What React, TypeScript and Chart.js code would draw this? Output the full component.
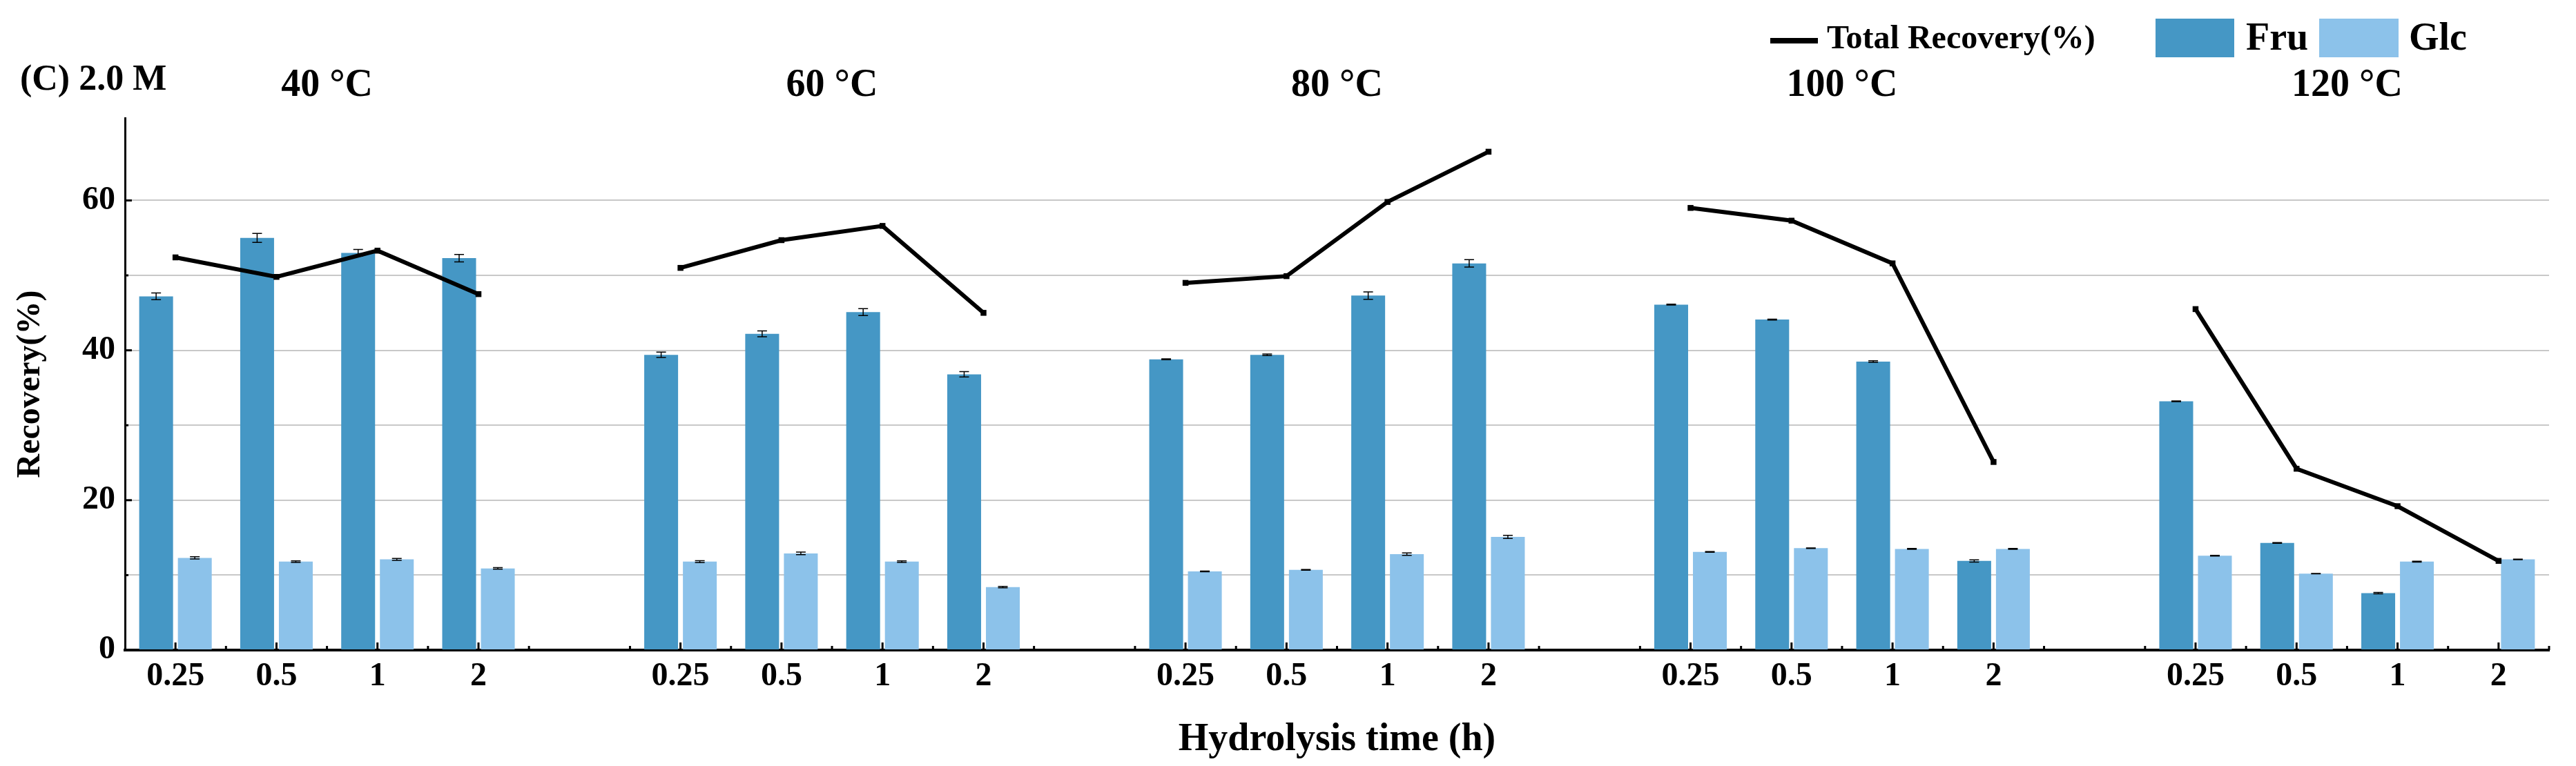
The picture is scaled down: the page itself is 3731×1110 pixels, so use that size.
import { useEffect, useRef } from 'react';
import { Chart, registerables } from 'chart.js';

Chart.register(...registerables);

// Blocks of hydrolysis temperature, each with four hydrolysis times
const temperatures = ['40 °C', '60 °C', '80 °C', '100 °C', '120 °C'];
const times = ['0.25', '0.5', '1', '2'];

// Fructose recovery (%) and its error, 4 values per temperature
const fru = [47.2, 55.0, 53.0, 52.3, 39.4, 42.2, 45.1, 36.8, 38.8, 39.4, 47.3, 51.6, 46.1, 44.1, 38.5, 11.9, 33.2, 14.3, 7.6, null];
const fruErr = [0.45, 0.6, 0.45, 0.5, 0.35, 0.4, 0.45, 0.35, 0.05, 0.1, 0.5, 0.5, 0.05, 0.05, 0.1, 0.15, 0.05, 0.05, 0.1, null];

// Glucose recovery (%) and its error
const glc = [12.3, 11.8, 12.1, 10.9, 11.8, 12.9, 11.8, 8.4, 10.5, 10.7, 12.8, 15.1, 13.1, 13.6, 13.5, 13.5, 12.6, 10.2, 11.8, 12.1];
const glcErr = [0.15, 0.1, 0.12, 0.1, 0.12, 0.18, 0.1, 0.1, 0.05, 0.05, 0.15, 0.2, 0.05, 0.03, 0.05, 0.05, 0.05, 0.03, 0.05, 0.03];

// Total recovery (%)
const totalRecovery = [52.4, 49.8, 53.3, 47.5, 51.0, 54.7, 56.6, 45.0, 49.0, 49.9, 59.8, 66.5, 59.0, 57.3, 51.6, 25.1, 45.5, 24.2, 19.2, 11.9];

const FRU_COLOR = '#4597c5';
const GLC_COLOR = '#8cc2ea';
const FONT = "'Liberation Serif', 'Times New Roman', serif";

// one empty category between temperature blocks
function withGaps<T>(values: T[]): (T | null)[] {
  const out: (T | null)[] = [];
  temperatures.forEach((_, b) => {
    if (b > 0) out.push(null);
    for (let k = 0; k < times.length; k++) out.push(values[b * times.length + k]);
  });
  return out;
}

const labels = withGaps(temperatures.flatMap(() => times)).map((t) => t ?? '');
const errorSets = [withGaps(fruErr), withGaps(glcErr)];

const decorations = {
  id: 'decorations',
  afterDatasetDraw(chart: any, args: any) {
    const meta = args.meta;
    if (meta.type !== 'bar') return;
    const errs = errorSets[args.index];
    const values = chart.data.datasets[args.index].data;
    const ys = chart.scales.y;
    const ctx = chart.ctx;
    ctx.save();
    ctx.strokeStyle = '#000';
    ctx.lineWidth = 1.5;
    meta.data.forEach((bar: any, i: number) => {
      const v = values[i];
      const e = errs[i];
      if (v == null || e == null) return;
      const top = ys.getPixelForValue(v + e);
      const bot = ys.getPixelForValue(v - e);
      ctx.beginPath();
      ctx.moveTo(bar.x, top);
      ctx.lineTo(bar.x, bot);
      ctx.moveTo(bar.x - 7, top);
      ctx.lineTo(bar.x + 7, top);
      ctx.moveTo(bar.x - 7, bot);
      ctx.lineTo(bar.x + 7, bot);
      ctx.stroke();
    });
    ctx.restore();
  },
  afterDraw(chart: any) {
    const { ctx, chartArea } = chart;
    const xs = chart.scales.x;
    const ys = chart.scales.y;
    ctx.save();
    ctx.strokeStyle = '#000';
    ctx.lineWidth = 3;
    // inward ticks on the x axis
    labels.forEach((lab, i) => {
      ctx.beginPath();
      if (lab) {
        const x = xs.getPixelForValue(i);
        ctx.moveTo(x, chartArea.bottom);
        ctx.lineTo(x, chartArea.bottom - 11);
      }
      const xm = xs.getPixelForValue(i + 0.5);
      ctx.moveTo(xm, chartArea.bottom);
      ctx.lineTo(xm, chartArea.bottom - 6);
      ctx.stroke();
    });
    // inward ticks on the y axis
    ys.ticks.forEach((t: any) => {
      const y = ys.getPixelForValue(t.value);
      const len = t.value % 20 === 0 ? 10 : 5;
      ctx.beginPath();
      ctx.moveTo(chartArea.left, y);
      ctx.lineTo(chartArea.left + len, y);
      ctx.stroke();
    });

    ctx.fillStyle = '#000';
    ctx.textBaseline = 'alphabetic';
    // temperature headings over each block
    ctx.font = `bold 56px ${FONT}`;
    ctx.textAlign = 'center';
    temperatures.forEach((t, b) => {
      const first = b * (times.length + 1);
      const x = (xs.getPixelForValue(first) + xs.getPixelForValue(first + times.length - 1)) / 2;
      ctx.fillText(t, x, 139);
    });

    // panel tag
    ctx.textAlign = 'left';
    ctx.font = `bold 52px ${FONT}`;
    ctx.fillText('(C) 2.0 M', 29, 130);

    // legend
    const ds = chart.data.datasets;
    ctx.lineWidth = 8;
    ctx.beginPath();
    ctx.moveTo(2564, 59);
    ctx.lineTo(2633, 59);
    ctx.stroke();
    ctx.font = `bold 48px ${FONT}`;
    ctx.fillText(ds[2].label, 2646, 70);
    ctx.font = `bold 56px ${FONT}`;
    ctx.fillStyle = ds[0].backgroundColor;
    ctx.fillRect(3122, 27, 114, 56);
    ctx.fillStyle = ds[1].backgroundColor;
    ctx.fillRect(3359, 27, 115, 56);
    ctx.fillStyle = '#000';
    ctx.fillText(ds[0].label, 3253, 72);
    ctx.fillText(ds[1].label, 3489, 72);
    ctx.restore();
  },
};

export default function App() {
  const canvasRef = useRef<HTMLCanvasElement | null>(null);
  const chartRef = useRef<Chart | null>(null);

  useEffect(() => {
    if (!canvasRef.current) return;
    if (chartRef.current) chartRef.current.destroy();

    const tickFont = { family: FONT, size: 48, weight: 'bold' as const };

    chartRef.current = new Chart(canvasRef.current, {
      type: 'bar',
      data: {
        labels,
        datasets: [
          {
            type: 'bar',
            label: 'Fru',
            data: withGaps(fru),
            backgroundColor: FRU_COLOR,
            barPercentage: 0.875,
            categoryPercentage: 0.766,
            order: 1,
          },
          {
            type: 'bar',
            label: 'Glc',
            data: withGaps(glc),
            backgroundColor: GLC_COLOR,
            barPercentage: 0.875,
            categoryPercentage: 0.766,
            order: 1,
          },
          {
            type: 'line',
            label: 'Total Recovery(%)',
            data: withGaps(totalRecovery),
            borderColor: '#000',
            borderWidth: 6,
            backgroundColor: '#000',
            pointStyle: 'rect',
            pointRadius: 6,
            pointBorderWidth: 0,
            pointBackgroundColor: '#000',
            spanGaps: false,
            tension: 0,
            order: 0,
          },
        ] as any,
      },
      options: {
        animation: false,
        responsive: true,
        maintainAspectRatio: false,
        layout: { padding: { top: 171, right: 39, bottom: 0, left: 0 } },
        plugins: {
          legend: { display: false },
          tooltip: { enabled: false },
        },
        scales: {
          x: {
            offset: true,
            grid: { display: true, drawOnChartArea: false, drawTicks: false },
            border: { display: true, color: '#000', width: 4 },
            ticks: { autoSkip: false, maxRotation: 0, padding: 10, color: '#000', font: tickFont },
            title: {
              display: true,
              text: 'Hydrolysis time (h)',
              color: '#000',
              font: { family: FONT, size: 56, weight: 'bold' },
              padding: { top: 0, bottom: 4 },
            },
            afterFit: (s: any) => {
              s.height = 168;
            },
          },
          y: {
            min: 0,
            max: 71,
            afterBuildTicks: (s: any) => {
              s.ticks = s.ticks.filter((t: any) => t.value % 10 === 0);
            },
            ticks: {
              stepSize: 10,
              padding: 14,
              color: '#000',
              font: tickFont,
              callback: (v: any) => (Number(v) % 20 === 0 ? String(v) : ''),
            },
            grid: {
              drawTicks: false,
              lineWidth: 2,
              color: (c: any) => (c.tick && c.tick.value === 0 ? 'rgba(0,0,0,0)' : '#c8c8c8'),
            },
            border: { color: '#000', width: 3 },
            title: {
              display: true,
              text: 'Recovery(%)',
              color: '#000',
              font: { family: FONT, size: 48, weight: 'bold' },
              padding: { top: 16, bottom: 0 },
            },
            afterFit: (s: any) => {
              s.width = 181;
            },
          },
        },
      },
      plugins: [decorations],
    });

    return () => {
      if (chartRef.current) {
        chartRef.current.destroy();
        chartRef.current = null;
      }
    };
  }, []);

  return (
    <div style={{ position: 'fixed', left: 0, top: 0, width: '3731px', height: '1110px', background: '#fff' }}>
      <canvas ref={canvasRef} aria-label="Recovery of fructose and glucose by hydrolysis time" />
    </div>
  );
}
